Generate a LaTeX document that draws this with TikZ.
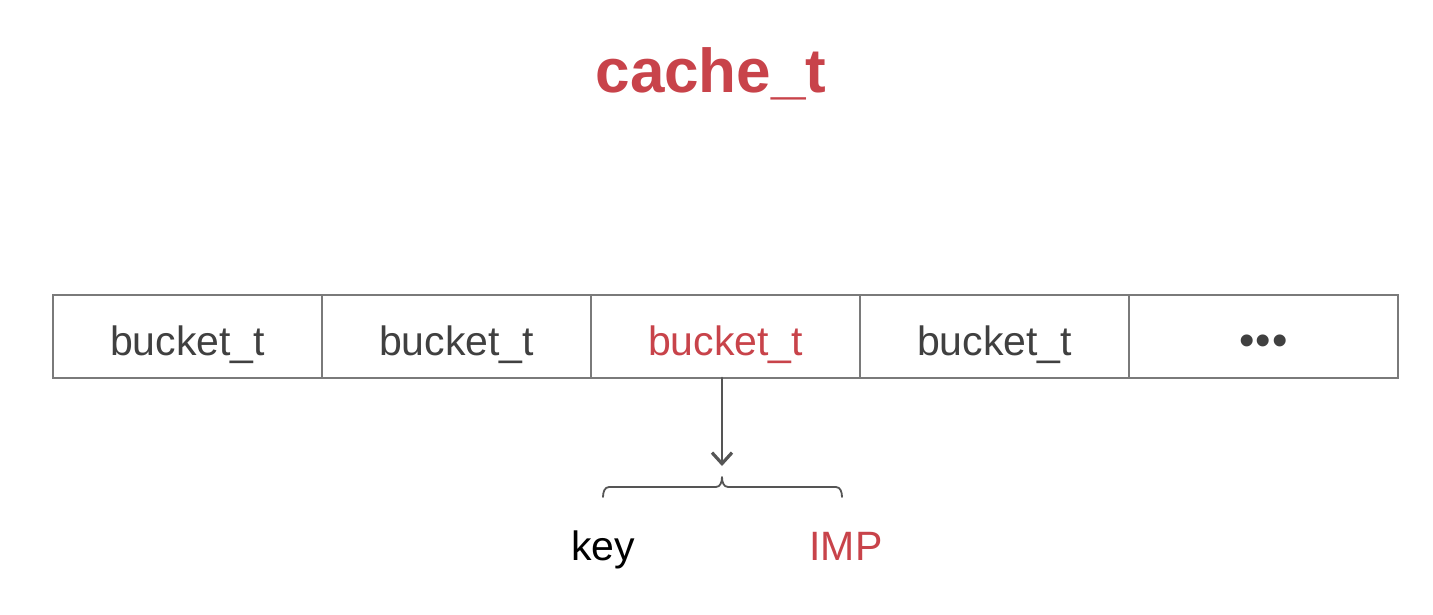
\documentclass[tikz,border=0pt]{standalone}
\usepackage{fontspec}
\setmainfont{Liberation Sans}
\usetikzlibrary{arrows.meta}
\definecolor{boxline}{HTML}{7A7A7A}
\definecolor{txtgray}{HTML}{404040}
\definecolor{accent}{HTML}{C8434A}
\definecolor{linkgray}{HTML}{555555}
\tikzset{
  cell/.style={draw=boxline, line width=1.4pt, minimum width=269pt, minimum height=83pt,
    inner sep=0pt, font=\fontsize{41}{41}\selectfont, text=txtgray, anchor=center,
    text height=37pt, text depth=0pt},
  lbl/.style={font=\fontsize{41}{41}\selectfont, inner sep=0pt, anchor=base},
  link/.style={draw=linkgray, line width=2.6pt, line cap=round},
  bracelink/.style={draw=linkgray, line width=1.8pt, line cap=round, line join=round}
}
\begin{document}
\begin{tikzpicture}[x=1pt,y=-1pt]
\useasboundingbox (0,0) rectangle (1433,614);
\fill[white] (0,0) rectangle (1433,614);
\node[font=\bfseries\fontsize{62}{62}\selectfont, text=accent, inner sep=0pt, anchor=base] (title) at (711,92) {cache\_t};
\node[cell] (b1) at (187.5,336.5) {bucket\_t};
\node[cell] (b2) at (456.5,336.5) {bucket\_t};
\node[cell, text=accent] (b3) at (725.5,336.5) {bucket\_t};
\node[cell] (b4) at (994.5,336.5) {bucket\_t};
\node[cell, text height=38pt, font=\fontsize{44}{44}\selectfont] (b5) at (1263.5,336.5) {\addfontfeature{LetterSpace=3}•••};
\coordinate (tip) at (722,466);
\draw[link, -{Straight Barb[length=11pt, width=20pt, line width=3.2pt]}] (722,378) -- (tip);
\coordinate (bl) at (603,497);
\coordinate (br) at (842,497);
\coordinate (bm) at (722,477);
\draw[bracelink] (bl) to[out=90,in=180] (609,487) -- (716,487) to[out=0,in=-90] (bm)
  to[out=-90,in=180] (728,487) -- (836,487) to[out=0,in=90] (br);
\node[lbl, text=black] (key) at (603,560) {key};
\node[lbl, text=accent] (imp) at (846,560) {IMP};
\end{tikzpicture}
\end{document}
